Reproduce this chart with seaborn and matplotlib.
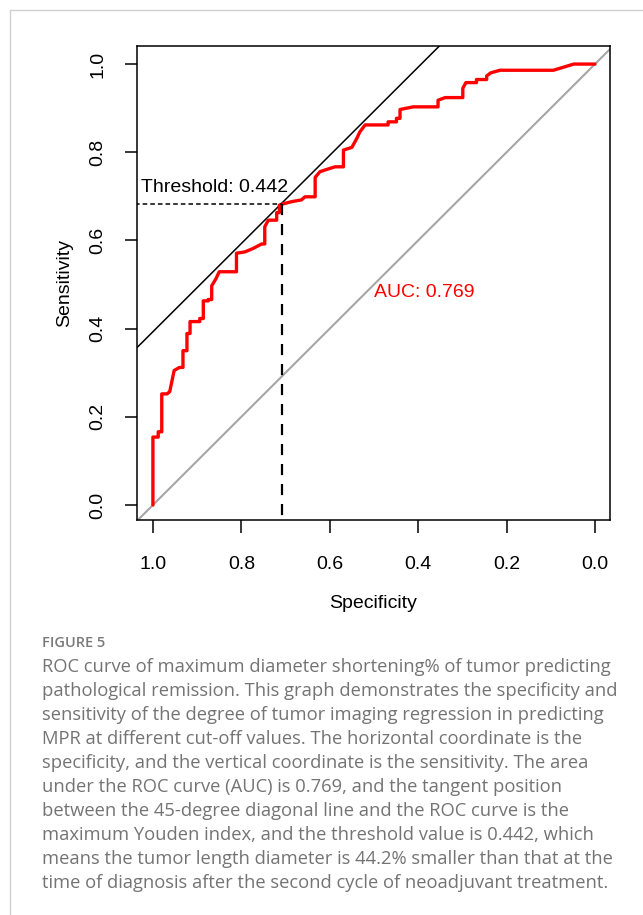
import matplotlib
matplotlib.use("Agg")
import matplotlib.pyplot as plt
from matplotlib.lines import Line2D
import seaborn as sns
import pandas as pd

# ---- data ----
specificity = [1.0, 1.0, 0.988, 0.988, 0.980, 0.980, 0.968, 0.962, 0.952, 0.940, 0.932,
               0.932, 0.923, 0.923, 0.916, 0.916, 0.894, 0.894, 0.886, 0.886, 0.875, 0.875,
               0.867, 0.867, 0.857, 0.850, 0.811, 0.811, 0.792, 0.773, 0.754, 0.747, 0.747,
               0.739, 0.720, 0.720, 0.714, 0.714, 0.709, 0.686, 0.664, 0.656, 0.633, 0.633,
               0.622, 0.607, 0.588, 0.569, 0.569, 0.550, 0.539, 0.532, 0.520, 0.468, 0.468,
               0.449, 0.449, 0.441, 0.441, 0.411, 0.355, 0.355, 0.339, 0.299, 0.299, 0.292,
               0.268, 0.268, 0.245, 0.245, 0.236, 0.215, 0.094, 0.048, 0.0]
sensitivity = [0.0, 0.154, 0.154, 0.166, 0.166, 0.252, 0.252, 0.257, 0.305, 0.312, 0.312,
               0.350, 0.350, 0.389, 0.389, 0.416, 0.416, 0.423, 0.423, 0.463, 0.463, 0.466,
               0.466, 0.497, 0.514, 0.529, 0.529, 0.571, 0.574, 0.582, 0.592, 0.592, 0.631,
               0.646, 0.646, 0.663, 0.663, 0.680, 0.682, 0.688, 0.692, 0.699, 0.699, 0.743,
               0.756, 0.761, 0.767, 0.767, 0.805, 0.811, 0.831, 0.846, 0.862, 0.862, 0.869,
               0.869, 0.877, 0.877, 0.897, 0.903, 0.903, 0.918, 0.924, 0.924, 0.945, 0.958,
               0.958, 0.965, 0.965, 0.973, 0.980, 0.986, 0.986, 1.0, 1.0]
threshold_spec = 0.709
threshold_sens = 0.682
youden = 0.393
auc_value = 0.769
threshold_value = 0.442
tick_values = [1.0, 0.8, 0.6, 0.4, 0.2, 0.0]
tick_labels = ["1.0", "0.8", "0.6", "0.4", "0.2", "0.0"]

caption_title = "FIGURE 5"
caption_lines = [
    "ROC curve of maximum diameter shortening% of tumor predicting",
    "pathological remission. This graph demonstrates the specificity and",
    "sensitivity of the degree of tumor imaging regression in predicting",
    "MPR at different cut-off values. The horizontal coordinate is the",
    "specificity, and the vertical coordinate is the sensitivity. The area",
    "under the ROC curve (AUC) is 0.769, and the tangent position",
    "between the 45-degree diagonal line and the ROC curve is the",
    "maximum Youden index, and the threshold value is 0.442, which",
    "means the tumor length diameter is 44.2% smaller than that at the",
    "time of diagnosis after the second cycle of neoadjuvant treatment.",
]

df = pd.DataFrame({"Specificity": specificity, "Sensitivity": sensitivity})

sns.set_theme(style="white")
plt.rcParams["font.family"] = ["Liberation Sans", "DejaVu Sans"]

W, H = 643, 915
FS = 14
fig = plt.figure(figsize=(W / 100, H / 100), dpi=100)
ax = fig.add_axes([137 / W, 1 - 520 / H, (610 - 137) / W, (520 - 46) / H])

# reference diagonal
ax.axline((1.0, 0.0), (0.0, 1.0), color="#a6a6a6", lw=1.5, zorder=1)
# tangent line (max Youden)
ax.axline((1.0, youden), (0.0, 1.0 + youden), color="black", lw=1.1, zorder=2)

sns.lineplot(data=df, x="Specificity", y="Sensitivity", sort=False, estimator=None,
             color="#ff0000", lw=2.4, ax=ax, zorder=3)

# threshold guides
ax.plot([1.04, threshold_spec], [threshold_sens, threshold_sens], color="black",
        lw=1.1, linestyle=(0, (3, 2)), zorder=4)
ax.plot([threshold_spec, threshold_spec], [threshold_sens, -0.04], color="black",
        lw=1.6, linestyle=(0, (5, 4)), zorder=4)

ax.text(1.027, 0.710, f"Threshold: {threshold_value:.3f}", ha="left", va="baseline",
        fontsize=FS, color="black")
ax.text(0.387, 0.481, f"AUC: {auc_value:.3f}", ha="center", va="center",
        fontsize=FS, color="#ff0000")

ax.set_xlim(1.036, -0.034)
ax.set_ylim(-0.034, 1.041)
ax.set_xticks(tick_values)
ax.set_xticklabels(tick_labels, fontsize=FS)
ax.set_yticks(tick_values)
ax.set_yticklabels(tick_labels, fontsize=FS, rotation=90, va="center")
ax.tick_params(axis="both", direction="out", length=9, width=1.1, color="black",
               labelcolor="black")
ax.tick_params(axis="x", pad=17, bottom=True)
ax.tick_params(axis="y", pad=13, left=True)
ax.set_xlabel("Specificity", fontsize=FS, labelpad=16, color="black")
ax.set_ylabel("Sensitivity", fontsize=FS, labelpad=12, color="black")
for s in ax.spines.values():
    s.set_color("black")
    s.set_linewidth(1.1)

# outer frame lines of the figure panel
fig.add_artist(Line2D([10 / W, 1.0], [1 - 10 / H, 1 - 10 / H], color="#cfcfcf", lw=1.0))
fig.add_artist(Line2D([10 / W, 10 / W], [0.0, 1 - 10 / H], color="#cfcfcf", lw=1.0))

# caption
fig.text(42 / W, 1 - 643 / H, caption_title, fontsize=10.5, fontweight="semibold",
         color="#7a7a7a", family=["Open Sans", "DejaVu Sans"], va="center", ha="left")
for i, line in enumerate(caption_lines):
    fig.text(42 / W, 1 - (667 + 24 * i) / H, line, fontsize=13.2, color="#747474",
             family=["Open Sans", "DejaVu Sans"], va="center", ha="left")

fig.savefig("out.png", dpi=100, facecolor="white")
